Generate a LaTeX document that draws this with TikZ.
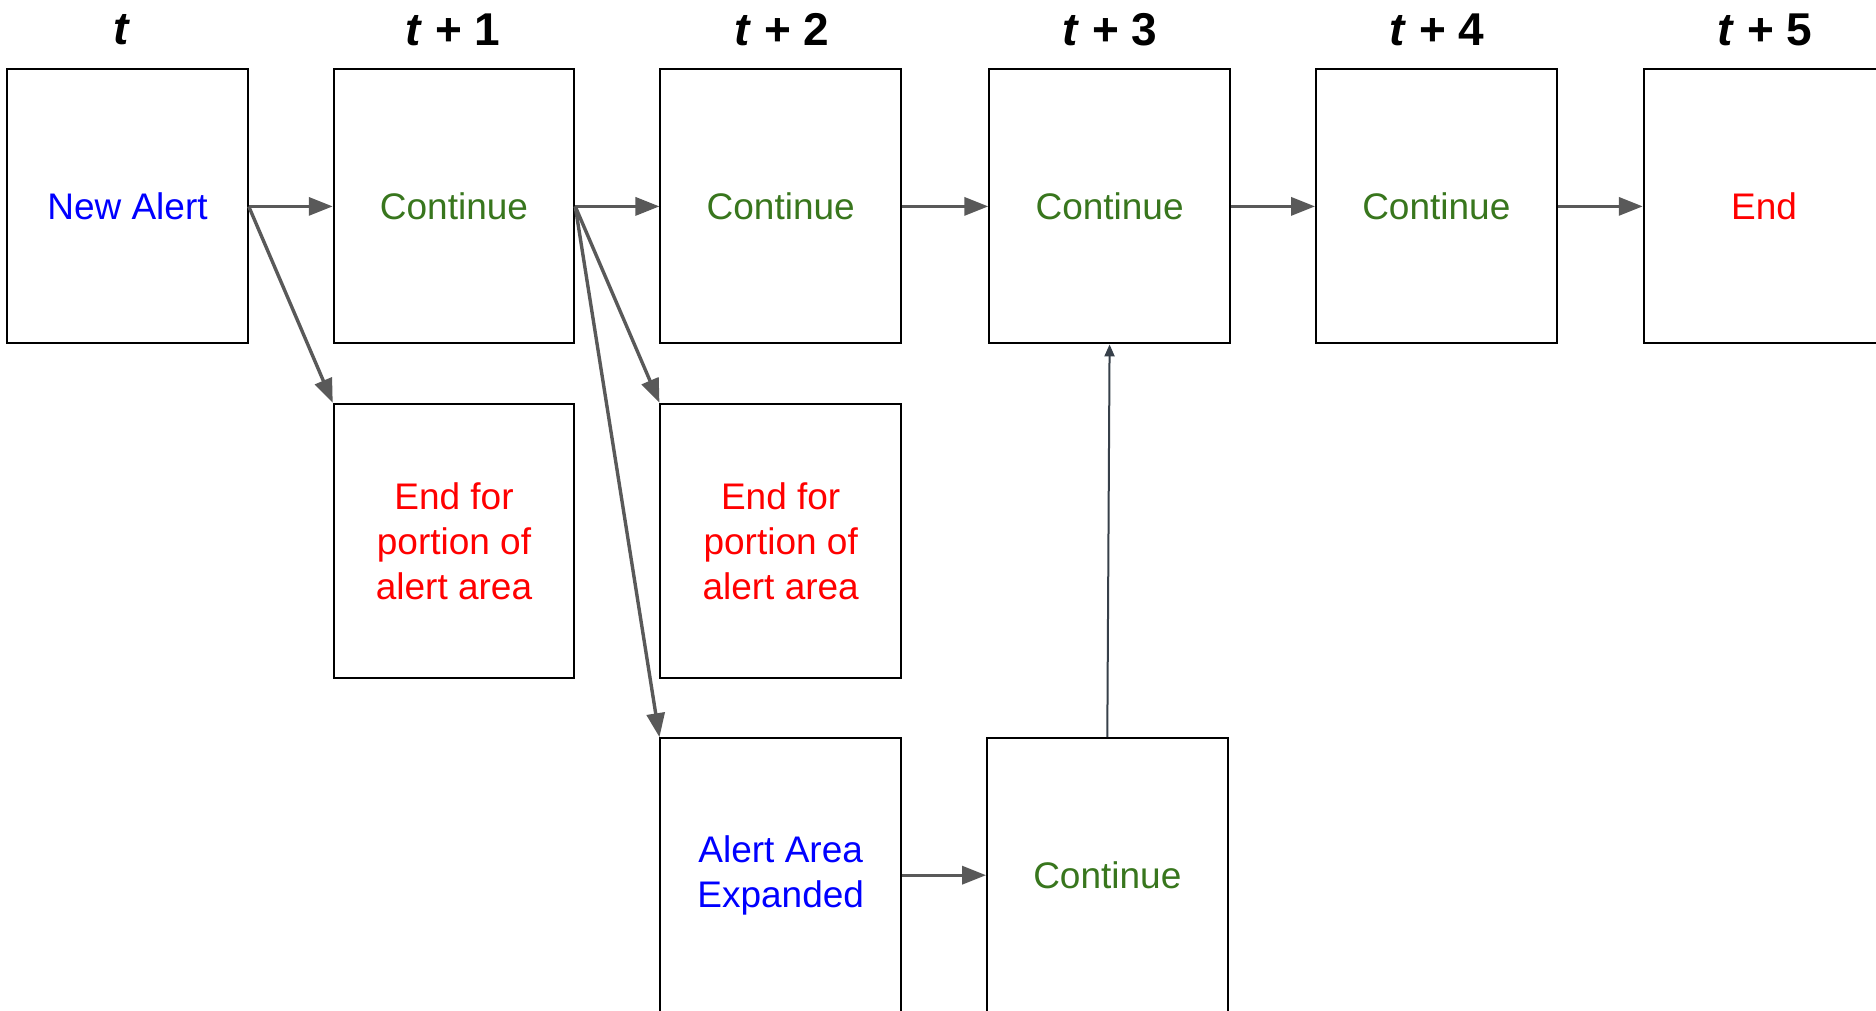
\documentclass[tikz,border=0pt]{standalone}
\usepackage{fontspec}
\setmainfont{Liberation Sans}
\usepackage{tikz}
\usetikzlibrary{arrows.meta,positioning}

\begin{document}
\begin{tikzpicture}[x=0.5pt,y=-0.5pt][>=stealth]

\def\boxw{120.25pt}
\def\boxh{137pt}
\def\rowA{206.4}
\def\rowB{540.8}
\def\rowC{875.2}
\def\heady{30}

% Colours
\definecolor{newcolor}{RGB}{0,0,255}
\definecolor{contcolor}{RGB}{56,118,29}
\definecolor{endcolor}{RGB}{255,0,0}
\definecolor{arrowcolor}{RGB}{89,89,89}
\definecolor{linkcolor}{RGB}{55,64,74}

% Styles
\tikzstyle{state}=[draw=black, line width=1pt, minimum width=\boxw, minimum height=\boxh, inner sep=0pt, align=center, font=\fontsize{18.5}{22.5}\selectfont]
\tikzstyle{header}=[font=\fontsize{23}{27}\selectfont\bfseries]
\tikzstyle{flow}=[draw=arrowcolor, line width=1.7pt, -{Triangle[length=12pt,width=9pt]}]

\useasboundingbox (0,0) rectangle (1876,1011);

% Time steps
\node[header] (h0) at (122,\heady) {\textit{t}};
\node[header] (h1) at (453,\heady) {\textit{t} + 1};
\node[header] (h2) at (782,\heady) {\textit{t} + 2};
\node[header] (h3) at (1110,\heady) {\textit{t} + 3};
\node[header] (h4) at (1437,\heady) {\textit{t} + 4};
\node[header] (h5) at (1765,\heady) {\textit{t} + 5};

% Main row
\node[state, text=newcolor] (alert) at (127.5,\rowA) {New Alert};
\node[state, text=contcolor] (cont1) at (454,\rowA) {Continue};
\node[state, text=contcolor] (cont2) at (780.7,\rowA) {Continue};
\node[state, text=contcolor] (cont3) at (1109.6,\rowA) {Continue};
\node[state, text=contcolor] (cont4) at (1436.3,\rowA) {Continue};
\node[state, text=endcolor] (final) at (1764,\rowA) {End};

% Partial ends
\node[state, text=endcolor] (part1) at (454,\rowB) {End for\\portion of\\alert area};
\node[state, text=endcolor] (part2) at (780.7,\rowB) {End for\\portion of\\alert area};

% Expansion
\node[state, text=newcolor] (expand) at (780.7,\rowC) {Alert Area\\Expanded};
\node[state, text=contcolor] (excont) at (1107.3,\rowC) {Continue};

\draw[flow] (alert.east) -- (cont1.west);
\draw[flow] (cont1.east) -- (cont2.west);
\draw[flow] (cont2.east) -- (cont3.west);
\draw[flow] (cont3.east) -- (cont4.west);
\draw[flow] (cont4.east) -- (final.west);

\draw[flow] (alert.east) -- (part1.north west);
\draw[flow] (cont1.east) -- (part2.north west);
\draw[flow] (cont1.east) -- (expand.north west);
\draw[flow] (expand.east) -- (excont.west);

\draw[draw=linkcolor, line width=1pt, -{Triangle[length=6pt,width=5pt]}] (excont.north) -- (cont3.south);

\end{tikzpicture}
\end{document}
